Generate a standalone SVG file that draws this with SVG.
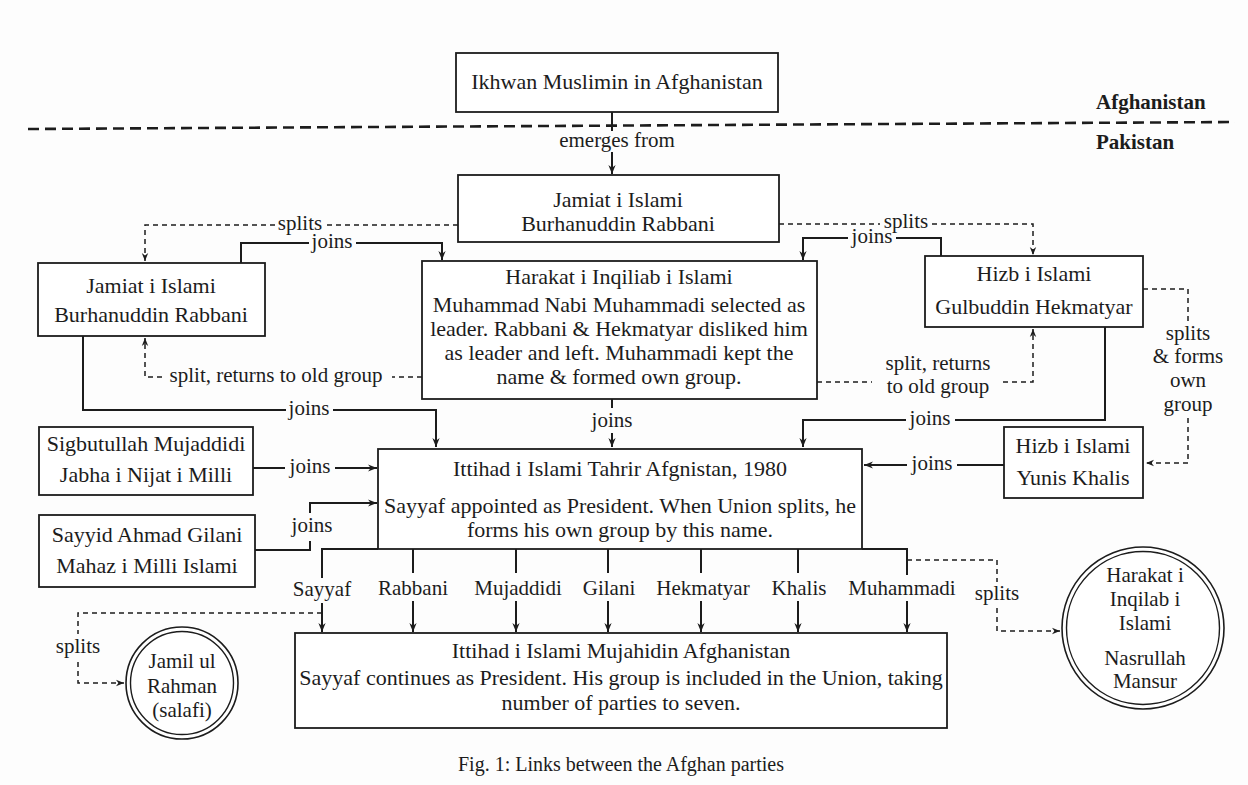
<svg xmlns="http://www.w3.org/2000/svg" width="1248" height="785" viewBox="0 0 1248 785">
<style>
.box{fill:#fff;stroke:#1c1c1c;stroke-width:1.8}
.ln{fill:none;stroke:#1c1c1c;stroke-width:2}
.dl{fill:none;stroke:#1c1c1c;stroke-width:1.5;stroke-dasharray:5 4}
.border{fill:none;stroke:#1c1c1c;stroke-width:2.6;stroke-dasharray:11 6}
text{font-family:"Liberation Serif","Times New Roman",serif;fill:#1c1c1c;text-anchor:middle;font-size:22px}
.l{font-size:21px}
.b{font-weight:bold;font-size:21px;text-anchor:start}
.cap{font-size:20px}
</style>
<defs>
<marker id="a" viewBox="0 0 10 10" refX="10" refY="5" markerWidth="9" markerHeight="9" markerUnits="userSpaceOnUse" orient="auto"><path d="M0,1 L10,5 L0,9 L3,5 z" fill="#1c1c1c"/></marker>
<marker id="ad" viewBox="0 0 10 10" refX="10" refY="5" markerWidth="8" markerHeight="8" markerUnits="userSpaceOnUse" orient="auto"><path d="M0,1 L10,5 L0,9 L3,5 z" fill="#1c1c1c"/></marker>
</defs>
<rect width="1248" height="785" fill="#fdfdfd"/>

<g id="border">
<path class="border" d="M28,129 L1235,122"/>
<text class="b" x="1096" y="109">Afghanistan</text>
<text class="b" x="1096" y="149">Pakistan</text>
</g>

<g id="connectors">
<path class="ln" d="M612,112 V131"/>
<text class="l" x="617" y="147">emerges from</text>
<path class="ln" d="M612,152 V174" marker-end="url(#a)"/>
<path class="dl" d="M458,225 H326"/>
<text class="l" x="300" y="230">splits</text>
<path class="dl" d="M275,225 H145 V261" marker-end="url(#ad)"/>
<path class="ln" d="M241,263 V243 H309"/>
<text class="l" x="332" y="248">joins</text>
<path class="ln" d="M356,243 H442 V260" marker-end="url(#a)"/>
<path class="dl" d="M779,224 H880"/>
<text class="l" x="906" y="228">splits</text>
<path class="dl" d="M932,224 H1033 V255" marker-end="url(#ad)"/>
<path class="ln" d="M941,256 V238 H896"/>
<text class="l" x="872" y="243">joins</text>
<path class="ln" d="M848,238 H803 V260" marker-end="url(#a)"/>
<path class="dl" d="M422,377 H392"/>
<text class="l" x="276" y="382">split, returns to old group</text>
<path class="dl" d="M162,377 H145 V338" marker-end="url(#ad)"/>
<path class="dl" d="M817,382 H872"/>
<text class="l" x="938" y="370">split, returns</text>
<text class="l" x="938" y="393">to old group</text>
<path class="dl" d="M1003,382 H1033 V329" marker-end="url(#ad)"/>
<path class="dl" d="M1143,289 H1188 V322"/>
<text class="l" x="1188" y="340">splits</text>
<text class="l" x="1188" y="363">&amp; forms</text>
<text class="l" x="1188" y="387">own</text>
<text class="l" x="1188" y="411">group</text>
<path class="dl" d="M1188,418 V463 H1146" marker-end="url(#ad)"/>
<path class="ln" d="M1105,327 V420 H955"/>
<text class="l" x="930" y="425">joins</text>
<path class="ln" d="M906,420 H803 V447" marker-end="url(#a)"/>
<path class="ln" d="M1004,465 H957"/>
<text class="l" x="932" y="470">joins</text>
<path class="ln" d="M907,465 H864" marker-end="url(#a)"/>
<path class="ln" d="M83,336 V410 H286"/>
<text class="l" x="309" y="415">joins</text>
<path class="ln" d="M333,410 H436 V447" marker-end="url(#a)"/>
<path class="ln" d="M612,399 V408"/>
<text class="l" x="612" y="427">joins</text>
<path class="ln" d="M612,433 V447" marker-end="url(#a)"/>
<path class="ln" d="M253,468 H285"/>
<text class="l" x="310" y="473">joins</text>
<path class="ln" d="M335,468 H377" marker-end="url(#a)"/>
<path class="ln" d="M255,550 H310 V541"/>
<text class="l" x="312" y="532">joins</text>
<path class="ln" d="M310,513 V503 H377" marker-end="url(#a)"/>
<path class="ln" d="M378,549 H322 V578"/>
<text class="l" x="322" y="596">Sayyaf</text>
<path class="ln" d="M322,603 V632" marker-end="url(#a)"/>
<path class="ln" d="M413,549 V573"/>
<text class="l" x="413" y="595">Rabbani</text>
<path class="ln" d="M413,601 V632" marker-end="url(#a)"/>
<path class="ln" d="M516,549 V573"/>
<text class="l" x="518" y="595">Mujaddidi</text>
<path class="ln" d="M516,601 V632" marker-end="url(#a)"/>
<path class="ln" d="M608,549 V573"/>
<text class="l" x="609" y="595">Gilani</text>
<path class="ln" d="M608,601 V632" marker-end="url(#a)"/>
<path class="ln" d="M701,549 V573"/>
<text class="l" x="703" y="595">Hekmatyar</text>
<path class="ln" d="M701,601 V632" marker-end="url(#a)"/>
<path class="ln" d="M798,549 V573"/>
<text class="l" x="799" y="595">Khalis</text>
<path class="ln" d="M798,601 V632" marker-end="url(#a)"/>
<path class="ln" d="M862,549 H907 V575"/>
<text class="l" x="902" y="595">Muhammadi</text>
<path class="ln" d="M907,601 V632" marker-end="url(#a)"/>
<path class="dl" d="M322,613 H78 V634"/>
<text class="l" x="78" y="653">splits</text>
<path class="dl" d="M78,662 V683 H124" marker-end="url(#ad)"/>
<path class="dl" d="M907,560 H997 V582"/>
<text class="l" x="997" y="600">splits</text>
<path class="dl" d="M997,608 V631 H1060" marker-end="url(#ad)"/>
</g>

<g id="ikhwan">
<rect class="box" x="456" y="53" width="322" height="59"/>
<text x="617" y="89">Ikhwan Muslimin in Afghanistan</text>
</g>
<g id="jamiat-top">
<rect class="box" x="458" y="175" width="321" height="67"/>
<text x="618" y="207">Jamiat i Islami</text>
<text x="618" y="231">Burhanuddin Rabbani</text>
</g>
<g id="jamiat-left">
<rect class="box" x="38" y="263" width="227" height="73"/>
<text x="151" y="293">Jamiat i Islami</text>
<text x="151" y="322">Burhanuddin Rabbani</text>
</g>
<g id="harakat">
<rect class="box" x="422" y="261" width="395" height="138"/>
<text x="619" y="284">Harakat i Inqiliab i Islami</text>
<text x="619" y="312">Muhammad Nabi Muhammadi selected as</text>
<text x="619" y="336">leader. Rabbani &amp; Hekmatyar disliked him</text>
<text x="619" y="360">as leader and left. Muhammadi kept the</text>
<text x="619" y="384">name &amp; formed own group.</text>
</g>
<g id="hizb-hekmatyar">
<rect class="box" x="925" y="256" width="218" height="71"/>
<text x="1034" y="281">Hizb i Islami</text>
<text x="1034" y="314">Gulbuddin Hekmatyar</text>
</g>
<g id="sigbutullah">
<rect class="box" x="39" y="427" width="214" height="68"/>
<text x="146" y="451">Sigbutullah Mujaddidi</text>
<text x="146" y="482">Jabha i Nijat i Milli</text>
</g>
<g id="gilani">
<rect class="box" x="39" y="515" width="216" height="72"/>
<text x="147" y="542">Sayyid Ahmad Gilani</text>
<text x="147" y="573">Mahaz i Milli Islami</text>
</g>
<g id="ittihad-tahrir">
<rect class="box" x="378" y="449" width="484" height="100"/>
<text x="620" y="476">Ittihad i Islami Tahrir Afgnistan, 1980</text>
<text x="620" y="513">Sayyaf appointed as President. When Union splits, he</text>
<text x="620" y="537">forms his own group by this name.</text>
</g>
<g id="hizb-khalis">
<rect class="box" x="1004" y="427" width="139" height="71"/>
<text x="1073" y="453">Hizb i Islami</text>
<text x="1073" y="485">Yunis Khalis</text>
</g>
<g id="ittihad-mujahidin">
<rect class="box" x="295" y="633" width="652" height="95"/>
<text x="621" y="658">Ittihad i Islami Mujahidin Afghanistan</text>
<text x="621" y="685">Sayyaf continues as President. His group is included in the Union, taking</text>
<text x="621" y="710">number of parties to seven.</text>
</g>
<g id="jamil">
<circle cx="182" cy="683" r="56" fill="#fff" stroke="#1c1c1c" stroke-width="1.6"/>
<circle cx="182" cy="683" r="51.5" fill="none" stroke="#1c1c1c" stroke-width="1.4"/>
<text class="l" x="182" y="668">Jamil ul</text>
<text class="l" x="182" y="693">Rahman</text>
<text class="l" x="182" y="717">(salafi)</text>
</g>
<g id="harakat-mansur">
<circle cx="1143" cy="628" r="81" fill="#fff" stroke="#1c1c1c" stroke-width="1.6"/>
<circle cx="1143" cy="628" r="76.5" fill="none" stroke="#1c1c1c" stroke-width="1.4"/>
<text class="l" x="1145" y="582">Harakat i</text>
<text class="l" x="1145" y="606">Inqilab i</text>
<text class="l" x="1145" y="630">Islami</text>
<text class="l" x="1145" y="665">Nasrullah</text>
<text class="l" x="1145" y="688">Mansur</text>
</g>
<text class="cap" x="621" y="771">Fig. 1: Links between the Afghan parties</text>
</svg>
